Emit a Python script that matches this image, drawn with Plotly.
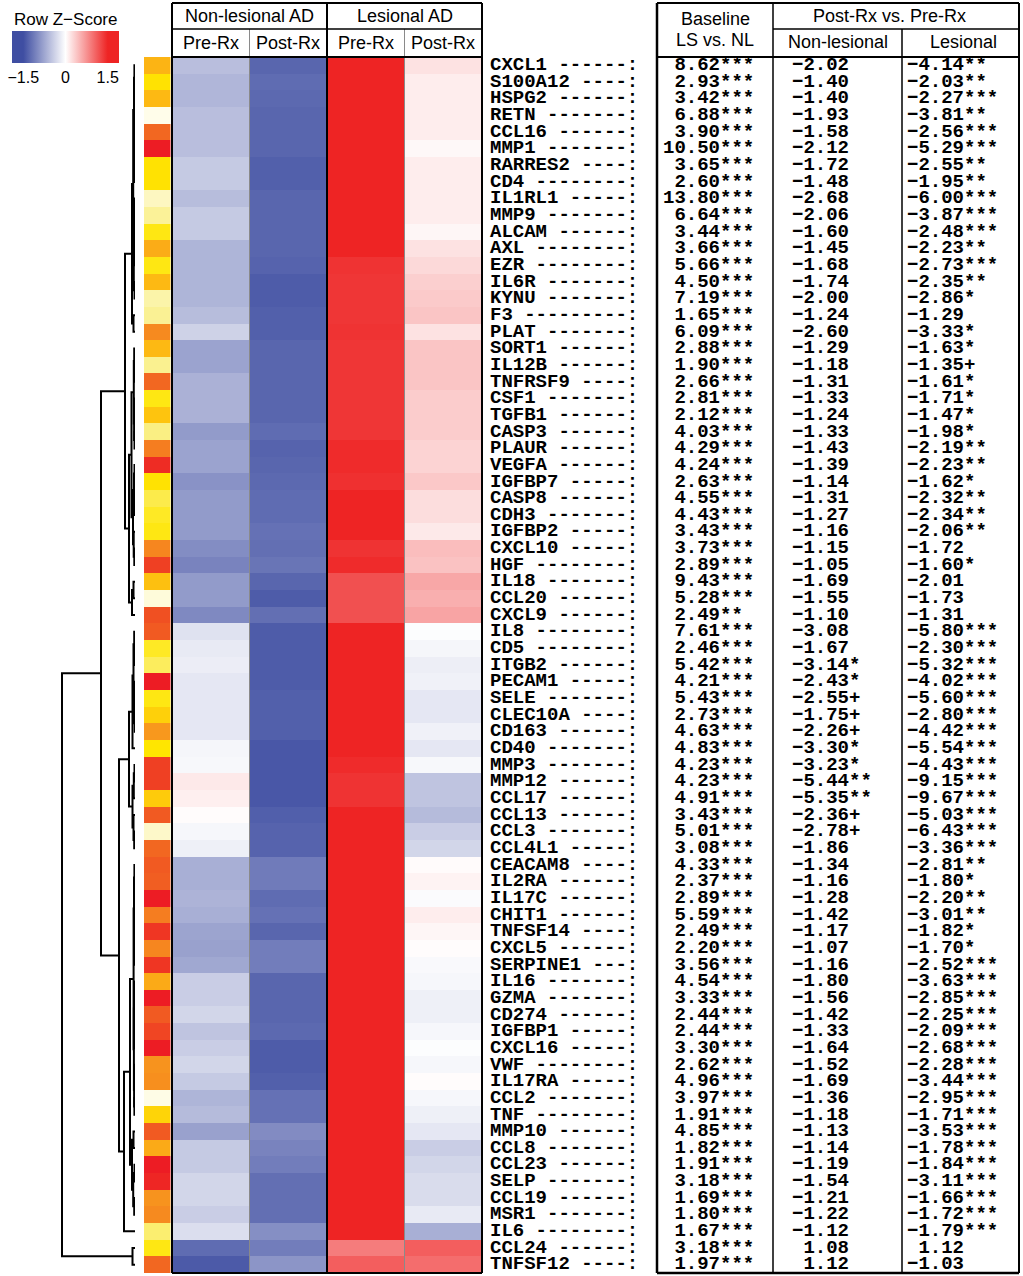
import plotly.graph_objects as go

W, H = 1023, 1276

GENES = ["CXCL1", "S100A12", "HSPG2", "RETN", "CCL16", "MMP1", "RARRES2", "CD4", "IL1RL1", "MMP9",
         "ALCAM", "AXL", "EZR", "IL6R", "KYNU", "F3", "PLAT", "SORT1", "IL12B", "TNFRSF9",
         "CSF1", "TGFB1", "CASP3", "PLAUR", "VEGFA", "IGFBP7", "CASP8", "CDH3", "IGFBP2", "CXCL10",
         "HGF", "IL18", "CCL20", "CXCL9", "IL8", "CD5", "ITGB2", "PECAM1", "SELE", "CLEC10A",
         "CD163", "CD40", "MMP3", "MMP12", "CCL17", "CCL13", "CCL3", "CCL4L1", "CEACAM8", "IL2RA",
         "IL17C", "CHIT1", "TNFSF14", "CXCL5", "SERPINE1", "IL16", "GZMA", "CD274", "IGFBP1", "CXCL16",
         "VWF", "IL17RA", "CCL2", "TNF", "MMP10", "CCL8", "CCL23", "SELP", "CCL19", "MSR1",
         "IL6", "CCL24", "TNFSF12"]

# row z-scores, one list per heatmap column
NL_PRE = [-0.55, -0.62, -0.62, -0.55, -0.55, -0.55, -0.45, -0.45, -0.56, -0.45,
          -0.45, -0.63, -0.63, -0.63, -0.63, -0.56, -0.38, -0.78, -0.78, -0.66,
          -0.66, -0.66, -0.85, -0.78, -0.78, -0.92, -0.85, -0.85, -0.85, -0.97,
          -1.05, -0.85, -0.85, -1.00, -0.25, -0.18, -0.15, -0.20, -0.20, -0.20,
          -0.20, -0.08, -0.06, 0.15, 0.11, 0.02, -0.07, -0.13, -0.68, -0.68,
          -0.64, -0.68, -0.77, -0.80, -0.74, -0.42, -0.42, -0.35, -0.50, -0.42,
          -0.35, -0.45, -0.63, -0.58, -0.80, -0.45, -0.45, -0.35, -0.35, -0.42,
          -0.28, -1.25, -1.40]
NL_POST = [-1.30, -1.25, -1.27, -1.30, -1.30, -1.30, -1.35, -1.35, -1.30, -1.30,
           -1.30, -1.30, -1.32, -1.38, -1.38, -1.35, -1.35, -1.30, -1.30, -1.30,
           -1.30, -1.30, -1.25, -1.32, -1.30, -1.27, -1.25, -1.25, -1.20, -1.22,
           -1.17, -1.30, -1.38, -1.22, -1.38, -1.38, -1.38, -1.38, -1.35, -1.35,
           -1.35, -1.42, -1.42, -1.42, -1.42, -1.36, -1.32, -1.32, -1.12, -1.12,
           -1.25, -1.20, -1.30, -1.10, -1.10, -1.30, -1.30, -1.30, -1.27, -1.38,
           -1.38, -1.35, -1.20, -1.20, -0.98, -1.05, -1.10, -1.22, -1.22, -1.22,
           -0.95, -1.10, -0.90]
LES_PRE = [1.50, 1.50, 1.50, 1.50, 1.50, 1.50, 1.50, 1.50, 1.50, 1.50,
           1.50, 1.50, 1.40, 1.38, 1.38, 1.38, 1.40, 1.38, 1.38, 1.38,
           1.38, 1.38, 1.38, 1.45, 1.45, 1.42, 1.50, 1.50, 1.50, 1.40,
           1.45, 1.20, 1.20, 1.20, 1.50, 1.50, 1.50, 1.50, 1.50, 1.50,
           1.50, 1.50, 1.45, 1.40, 1.40, 1.50, 1.50, 1.50, 1.50, 1.50,
           1.50, 1.50, 1.50, 1.50, 1.50, 1.50, 1.50, 1.50, 1.50, 1.50,
           1.50, 1.50, 1.50, 1.50, 1.50, 1.50, 1.50, 1.50, 1.50, 1.50,
           1.50, 0.90, 1.10]
LES_POST = [0.20, 0.12, 0.12, 0.12, 0.12, 0.05, 0.12, 0.12, 0.12, 0.12,
            0.06, 0.20, 0.26, 0.33, 0.36, 0.40, 0.20, 0.40, 0.40, 0.40,
            0.35, 0.35, 0.35, 0.30, 0.30, 0.38, 0.23, 0.23, 0.15, 0.45,
            0.42, 0.60, 0.55, 0.62, -0.02, -0.08, -0.14, -0.12, -0.20, -0.20,
            -0.12, -0.20, -0.06, -0.50, -0.50, -0.58, -0.42, -0.35, 0.03, 0.08,
            -0.03, 0.12, 0.06, 0.02, -0.05, -0.07, -0.13, -0.13, -0.07, -0.02,
            -0.07, 0.02, -0.07, -0.13, -0.20, -0.42, -0.35, -0.30, -0.30, -0.18,
            -0.68, 1.10, 1.00]

# side colour bar (0 = cream, 1 = red)
STRIP = [0.62, 0.42, 0.60, 0.02, 0.85, 1.00, 0.42, 0.42, 0.12, 0.22,
         0.38, 0.65, 0.38, 0.60, 0.18, 0.23, 0.77, 0.60, 0.24, 0.85,
         0.38, 0.55, 0.26, 0.80, 0.97, 0.42, 0.32, 0.36, 0.38, 0.78,
         0.93, 0.57, 0.06, 0.90, 0.88, 0.36, 0.30, 1.00, 0.38, 0.50,
         0.73, 0.40, 0.93, 0.93, 0.52, 0.88, 0.10, 0.85, 0.88, 0.87,
         1.00, 0.80, 0.95, 0.78, 0.95, 0.66, 1.00, 0.88, 0.92, 1.00,
         0.75, 0.76, 0.03, 0.48, 0.88, 0.66, 1.00, 0.98, 0.75, 0.77,
         0.28, 0.38, 0.85]

BASELINE = [8.62, 2.93, 3.42, 6.88, 3.90, 10.50, 3.65, 2.60, 13.80, 6.64,
            3.44, 3.66, 5.66, 4.50, 7.19, 1.65, 6.09, 2.88, 1.90, 2.66,
            2.81, 2.12, 4.03, 4.29, 4.24, 2.63, 4.55, 4.43, 3.43, 3.73,
            2.89, 9.43, 5.28, 2.49, 7.61, 2.46, 5.42, 4.21, 5.43, 2.73,
            4.63, 4.83, 4.23, 4.23, 4.91, 3.43, 5.01, 3.08, 4.33, 2.37,
            2.89, 5.59, 2.49, 2.20, 3.56, 4.54, 3.33, 2.44, 2.44, 3.30,
            2.62, 4.96, 3.97, 1.91, 4.85, 1.82, 1.91, 3.18, 1.69, 1.80,
            1.67, 3.18, 1.97]
BASELINE_SIG = ["***"] * 33 + ["**"] + ["***"] * 39
NL_FC = [-2.02, -1.40, -1.40, -1.93, -1.58, -2.12, -1.72, -1.48, -2.68, -2.06,
         -1.60, -1.45, -1.68, -1.74, -2.00, -1.24, -2.60, -1.29, -1.18, -1.31,
         -1.33, -1.24, -1.33, -1.43, -1.39, -1.14, -1.31, -1.27, -1.16, -1.15,
         -1.05, -1.69, -1.55, -1.10, -3.08, -1.67, -3.14, -2.43, -2.55, -1.75,
         -2.26, -3.30, -3.23, -5.44, -5.35, -2.36, -2.78, -1.86, -1.34, -1.16,
         -1.28, -1.42, -1.17, -1.07, -1.16, -1.80, -1.56, -1.42, -1.33, -1.64,
         -1.52, -1.69, -1.36, -1.18, -1.13, -1.14, -1.19, -1.54, -1.21, -1.22,
         -1.12, 1.08, 1.12]
NL_SIG = [""] * 36 + ["*", "*", "+", "+", "+", "*", "*", "**", "**", "+", "+"] + [""] * 26
LES_FC = [-4.14, -2.03, -2.27, -3.81, -2.56, -5.29, -2.55, -1.95, -6.00, -3.87,
          -2.48, -2.23, -2.73, -2.35, -2.86, -1.29, -3.33, -1.63, -1.35, -1.61,
          -1.71, -1.47, -1.98, -2.19, -2.23, -1.62, -2.32, -2.34, -2.06, -1.72,
          -1.60, -2.01, -1.73, -1.31, -5.80, -2.30, -5.32, -4.02, -5.60, -2.80,
          -4.42, -5.54, -4.43, -9.15, -9.67, -5.03, -6.43, -3.36, -2.81, -1.80,
          -2.20, -3.01, -1.82, -1.70, -2.52, -3.63, -2.85, -2.25, -2.09, -2.68,
          -2.28, -3.44, -2.95, -1.71, -3.53, -1.78, -1.84, -3.11, -1.66, -1.72,
          -1.79, 1.12, -1.03]
LES_SIG = (["**", "**", "***", "**", "***", "***", "**", "**", "***", "***",
            "***", "**", "***", "**", "*", "", "*", "*", "+", "*",
            "*", "*", "*", "**", "**", "*", "**", "**", "**", "",
            "*", "", "", ""] + ["***"] * 14 +
           ["**", "*", "**", "**", "*", "*"] + ["***"] * 17 + ["", ""])

# dendrogram merges: (first row, last row, first row of right child, height in px)
DENDRO_NODES = [
    (1, 73, 72, 73), (72, 73, 73, 2.5), (1, 71, 35, 34), (1, 34, 18, 10),
    (35, 71, 49, 16), (49, 71, 71, 11),
    (1, 17, 16, 3.0), (1, 15, 9, 1.8), (16, 17, 17, 1.5), (1, 8, 4, 1.0),
    (9, 15, 14, 1.2), (1, 3, 2, 0.6), (2, 3, 3, 0.3), (4, 8, 6, 0.8),
    (4, 5, 5, 0.4), (6, 8, 7, 0.5), (7, 8, 8, 0.2), (9, 13, 11, 1.0),
    (14, 15, 15, 0.5), (9, 10, 10, 0.4), (11, 13, 12, 0.6), (12, 13, 13, 0.3),
    (18, 34, 32, 6), (32, 34, 34, 3.0), (32, 33, 33, 1.5), (18, 31, 25, 3.5),
    (18, 24, 21, 1.2), (18, 20, 19, 0.8), (19, 20, 20, 0.4), (21, 24, 23, 0.9),
    (21, 22, 22, 0.3), (23, 24, 24, 0.5), (25, 31, 29, 2.0), (25, 28, 27, 1.0),
    (25, 26, 26, 0.5), (27, 28, 28, 0.3), (29, 31, 30, 1.3), (30, 31, 31, 0.7),
    (35, 48, 43, 6), (35, 42, 42, 2.5), (35, 41, 38, 1.5), (35, 37, 36, 0.8),
    (36, 37, 37, 0.4), (38, 41, 40, 1.0), (38, 39, 39, 0.5), (40, 41, 41, 0.3),
    (43, 48, 46, 2.5), (43, 45, 45, 1.2), (43, 44, 44, 0.5), (46, 48, 47, 1.5),
    (47, 48, 48, 0.8),
    (49, 70, 65, 5), (49, 64, 56, 1.4), (49, 55, 52, 1.0), (49, 51, 50, 0.6),
    (50, 51, 51, 0.3), (52, 55, 54, 0.7), (52, 53, 53, 0.4), (54, 55, 55, 0.2),
    (56, 64, 61, 1.1), (56, 60, 58, 0.8), (56, 57, 57, 0.3), (58, 60, 59, 0.5),
    (59, 60, 60, 0.2), (61, 64, 63, 0.9), (61, 62, 62, 0.4), (63, 64, 64, 0.6),
    (65, 70, 67, 3.0), (65, 66, 66, 1.5), (67, 70, 69, 1.8), (67, 68, 68, 0.5),
    (69, 70, 70, 0.8),
]

HEAT_COLS = ["Pre-Rx", "Post-Rx", "Pre-Rx", "Post-Rx"]

SANS = "Liberation Sans"
MONO = "Liberation Mono"


def px(x):
    return x / W


def py(y):
    return 1 - y / H


n = len(GENES)
rows = list(range(n))

# dendrogram segments
node_map = {(a, b): (s, h) for a, b, s, h in DENDRO_NODES}
dx, dy = [], []


def place(a, b):
    if a == b:
        return a - 1, 0.0
    s, h = node_map[(a, b)]
    y1, h1 = place(a, s - 1)
    y2, h2 = place(s, b)
    dx.extend([h1, h, h, h2, None])
    dy.extend([y1, y1, y2, y2, None])
    return (y1 + y2) / 2, h


place(1, n)

zmin, zmax = -1.9, 1.9
lo = (-1.5 - zmin) / (zmax - zmin)
hi = (1.5 - zmin) / (zmax - zmin)
heat_scale = [[0, "#3F4EA2"], [lo, "#3F4EA2"], [0.5, "#FFFFFF"], [hi, "#EE2424"], [1, "#EE2424"]]
strip_scale = [[0.0, "#FFFEF2"], [0.25, "#FAF08C"], [0.4, "#FFE600"], [0.6, "#FDB913"],
               [0.75, "#F7931E"], [0.88, "#F15A22"], [1.0, "#ED1C24"]]

z = [[NL_PRE[i], NL_POST[i], LES_PRE[i], LES_POST[i]] for i in rows]

fig = go.Figure()
fig.add_trace(go.Heatmap(
    z=z, x=[0, 1, 2, 3], y=rows, zmin=zmin, zmax=zmax, colorscale=heat_scale,
    hoverinfo="skip", xaxis="x", yaxis="y",
    colorbar=dict(
        orientation="h", lenmode="pixels", len=107, thicknessmode="pixels", thickness=32,
        x=px(65.5), xanchor="center", y=py(31), yanchor="top", ypad=0, xpad=0,
        outlinewidth=0, ticks="", tickvals=[-1.5, 0, 1.5], ticktext=["\u22121.5", "0", "1.5"],
        tickfont=dict(family=SANS, size=16, color="black"),
    ),
))
fig.add_trace(go.Heatmap(
    z=[[v] for v in STRIP], x=[0], y=rows, zmin=0, zmax=1, colorscale=strip_scale,
    showscale=False, hoverinfo="skip", xaxis="x3", yaxis="y",
))
fig.add_trace(go.Scatter(
    x=dx, y=dy, mode="lines", line=dict(color="black", width=2),
    hoverinfo="skip", showlegend=False, xaxis="x2", yaxis="y",
))

labels = ["<b>%s %s:</b>" % (g, "-" * max(11 - len(g), 2)) for g in GENES]
fig.add_trace(go.Scatter(
    x=[490] * n, y=rows, mode="text", text=labels, textposition="middle right",
    textfont=dict(family=MONO, size=19, color="black"),
    hoverinfo="skip", showlegend=False, xaxis="x4", yaxis="y",
))


def fmt(v, sig):
    return "<b>" + ("%5.2f" % v).replace("-", "\u2212") + sig + "</b>"


for xs, vals, sigs in [(663, BASELINE, BASELINE_SIG), (792, NL_FC, NL_SIG), (907, LES_FC, LES_SIG)]:
    fig.add_trace(go.Scatter(
        x=[xs] * n, y=rows, mode="text",
        text=[fmt(v, s) for v, s in zip(vals, sigs)], textposition="middle right",
        textfont=dict(family=MONO, size=19, color="black"),
        hoverinfo="skip", showlegend=False, xaxis="x4", yaxis="y",
    ))

shapes = []


def line(x0, y0, x1, y1, color="black", width=2):
    shapes.append(dict(type="line", xref="paper", yref="paper", x0=px(x0), y0=py(y0),
                       x1=px(x1), y1=py(y1), line=dict(color=color, width=width)))


# heatmap frame and header
line(249.5, 29, 249.5, 1273, "#8a8a8a", 1)
line(404.5, 29, 404.5, 1273, "#8a8a8a", 1)
line(172, 3, 172, 1273)
line(482, 3, 482, 1273)
line(327, 3, 327, 1273)
line(172, 3, 482, 3)
line(172, 29, 482, 29, width=1.5)
line(172, 57, 482, 57)
line(172, 1273, 482, 1273)

# table frame and header
line(657, 3, 657, 1273, width=2.5)
line(1019, 3, 1019, 1273)
line(773, 3, 773, 1273, width=1.5)
line(902, 29, 902, 1273, width=1.5)
line(657, 3, 1019, 3)
line(773, 29, 1019, 29, width=1.5)
line(657, 57, 1019, 57)
line(657, 1273, 1019, 1273, width=2.5)

annotations = []


def label(x, y, text, size=18):
    annotations.append(dict(x=px(x), y=py(y), xref="paper", yref="paper", text=text,
                            showarrow=False, xanchor="center", yanchor="middle",
                            font=dict(family=SANS, size=size, color="black")))


label(65.5, 20, "Row Z\u2212Score", 17)
label(249.5, 16, "Non-lesional AD")
label(404.5, 16, "Lesional AD")
for cx, t in zip([211, 288, 366, 443], HEAT_COLS):
    label(cx, 43, t)
label(715, 19, "Baseline")
label(715, 40, "LS vs. NL")
label(889, 16, "Post-Rx vs. Pre-Rx")
label(838, 42, "Non-lesional")
label(963, 42, "Lesional")

hidden = dict(visible=False, showgrid=False, zeroline=False, fixedrange=True)
fig.update_layout(
    width=W, height=H, margin=dict(l=0, r=0, t=0, b=0),
    paper_bgcolor="white", plot_bgcolor="rgba(0,0,0,0)", showlegend=False,
    xaxis=dict(domain=[px(172), px(482)], range=[-0.5, 3.5], anchor="y", **hidden),
    xaxis2=dict(domain=[px(40), px(135)], range=[95, 0], anchor="y", **hidden),
    xaxis3=dict(domain=[px(144), px(170.5)], range=[-0.5, 0.5], anchor="y", **hidden),
    xaxis4=dict(domain=[0, 1], range=[0, W], anchor="y", **hidden),
    yaxis=dict(domain=[py(1273), py(57)], range=[n - 0.5, -0.5], **hidden),
    shapes=shapes, annotations=annotations,
)

fig.write_html("out.html", config={"displayModeBar": False},
               post_script="document.body.style.margin = '0px';")
